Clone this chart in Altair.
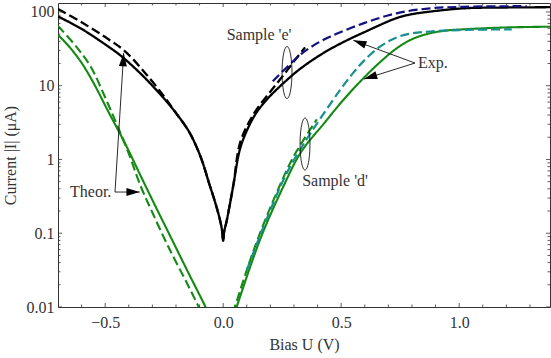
import altair as alt
import pandas as pd

# ---------------- data: bias U (V) and current |I| (uA) ----------------
# Sample 'e' – experiment (black solid)
e_exp_V = [-0.7, -0.6, -0.5, -0.431, -0.35, -0.3, -0.234, -0.17, -0.14, -0.107, -0.085, -0.06,
           -0.035, -0.015, -0.005, 0.0, 0.004, 0.0135, 0.03, 0.0446, 0.07, 0.1, 0.14, 0.19, 0.24,
           0.29, 0.3256, 0.39, 0.4527, 0.52, 0.594, 0.735, 0.8, 0.876, 1.018, 1.2, 1.386]
e_exp_I = [87.1, 58.9, 36.3, 25.1, 14.6, 10.0, 5.83, 3.16, 2.24, 1.34, 0.871, 0.479,
           0.269, 0.158, 0.110, 0.079, 0.105, 0.141, 0.263, 0.479, 1.34, 2.45, 4.27, 6.76, 9.77,
           13.6, 16.9, 23.6, 31.3, 40.6, 52.5, 82.6, 93.3, 101.0, 112.0, 115.0, 116.0]

# Sample 'e' – theory (black dashed)
e_th_V = [-0.7, -0.6, -0.5, -0.417, -0.33, -0.247, -0.2, -0.17, -0.14, -0.107, -0.085, -0.06,
          -0.035, -0.015, -0.005, 0.0, 0.004, 0.0135, 0.03, 0.0446, 0.072, 0.13, 0.2, 0.25, 0.3, 0.347]
e_th_I = [110.0, 72.4, 45.7, 29.5, 14.8, 6.92, 4.27, 3.16, 2.24, 1.34, 0.871, 0.479,
          0.269, 0.158, 0.110, 0.079, 0.105, 0.141, 0.263, 0.479, 1.70, 4.17, 8.32, 13.2, 21.4, 33.1]

# Sample 'e' – second dashed curve (navy)
e_fit_V = [0.21, 0.27, 0.33, 0.39, 0.4527, 0.594, 0.735, 0.876, 1.018, 1.286]
e_fit_I = [11.5, 17.8, 26.9, 36.3, 46.2, 70.1, 95.9, 112.0, 117.5, 120.0]

# Sample 'd' – experiment (green solid), two branches
d_exp_neg_V = [-0.7, -0.65, -0.6, -0.55, -0.487, -0.417, -0.35, -0.3, -0.218, -0.15, -0.078, -0.065]
d_exp_neg_I = [49.0, 33.1, 20.4, 11.0, 4.47, 1.68, 0.603, 0.282, 0.0832, 0.0302, 0.0105, 0.0085]
d_exp_pos_V = [0.05, 0.058, 0.157, 0.25, 0.33, 0.43, 0.509, 0.594, 0.665, 0.735, 0.8, 0.876,
               0.95, 1.018, 1.2, 1.386]
d_exp_pos_I = [0.0085, 0.0102, 0.0832, 0.398, 1.26, 3.16, 6.41, 12.6, 20.9, 32.1, 42.7, 51.4,
               56.2, 58.2, 61.7, 63.1]

# Sample 'd' – theory (green dashed), two branches
d_th_neg_V = [-0.7, -0.62, -0.56, -0.5, -0.45, -0.4, -0.35, -0.3, -0.233, -0.15, -0.1, -0.09]
d_th_neg_I = [64.6, 33.1, 17.8, 6.92, 2.95, 1.20, 0.437, 0.191, 0.0661, 0.0200, 0.00955, 0.0083]
d_th_pos_V = [0.04, 0.05, 0.1, 0.15, 0.22, 0.3, 0.397]
d_th_pos_I = [0.0083, 0.0102, 0.0316, 0.0891, 0.316, 1.12, 3.5]

# Sample 'd' – second dashed curve (teal)
d_fit_V = [0.1, 0.185, 0.27, 0.355, 0.417, 0.495, 0.55, 0.594, 0.66, 0.735, 0.8, 0.876, 1.0, 1.223]
d_fit_I = [0.0316, 0.158, 0.661, 1.91, 3.80, 8.71, 14.8, 21.4, 33.1, 45.2, 51.3, 54.3, 56.9, 58.2]

# axis ticks
x_major = [-0.5, 0.0, 0.5, 1.0]
x_minor = [-0.6, -0.4, -0.3, -0.2, -0.1, 0.1, 0.2, 0.3, 0.4, 0.6, 0.7, 0.8, 0.9, 1.1, 1.2, 1.3]
y_major = [0.01, 0.1, 1, 10, 100]
y_minor = [0.02, 0.03, 0.04, 0.05, 0.06, 0.07, 0.08, 0.09,
           0.2, 0.3, 0.4, 0.5, 0.6, 0.7, 0.8, 0.9,
           2, 3, 4, 5, 6, 7, 8, 9,
           20, 30, 40, 50, 60, 70, 80, 90]

# annotations (data coordinates)
ann_text = ["Sample 'e'", "Sample 'd'", "Exp.", "Theor."]
ann_V = [0.152, 0.474, 0.826, -0.649]
ann_I = [48.7, 0.511, 20.3, 0.362]
ann_align = ["center", "center", "left", "left"]

arrow_V = [-0.4584, -0.4584, 0.813, 0.813]
arrow_I = [0.362, 0.362, 20.3, 20.3]
arrow_V2 = [-0.4216, -0.3538, 0.5514, 0.5968]
arrow_I2 = [27.8, 0.362, 41.3, 12.3]
arrow_angle = [3.5, 90, 290.2, 252.6]

ell_V = [0.2705, 0.3468]
ell_I = [15.1, 1.62]

# ---------------- chart ----------------
W, H = 492, 304
FONT = "Liberation Serif"
TXT = "#333333"

xscale = alt.Scale(domain=[-0.7, 1.385], nice=False, zero=False)
yscale = alt.Scale(type="log", domain=[0.01, 132.3], nice=False)

x_axis = alt.Axis(values=x_major, grid=False, ticks=False, domain=False,
                  labelExpr="replace(format(datum.value, '.1f'), '-', '\u2212')",
                  labelPadding=7, titlePadding=6, title="Bias U (V)")
y_axis = alt.Axis(values=y_major, grid=False, ticks=False, domain=False, format="~g",
                  labelPadding=4, titlePadding=8, title="Current |I| (\u03bcA)")


def X(field):
    return alt.X(field, scale=xscale, axis=x_axis)


def Y(field):
    return alt.Y(field, scale=yscale, axis=y_axis)


series = [
    (e_exp_V, e_exp_I, "#000000", [1, 0], 2.3),
    (e_th_V, e_th_I, "#000000", [9, 4], 2.3),
    (e_fit_V, e_fit_I, "#10107f", [9, 4], 2.2),
    (d_exp_neg_V, d_exp_neg_I, "#138a13", [1, 0], 2.1),
    (d_exp_pos_V, d_exp_pos_I, "#138a13", [1, 0], 2.1),
    (d_th_neg_V, d_th_neg_I, "#138a13", [9, 4], 2.1),
    (d_th_pos_V, d_th_pos_I, "#138a13", [9, 4], 2.1),
    (d_fit_V, d_fit_I, "#198f8f", [9, 4], 2.2),
]

layers = []
for vv, ii, col, dash, sw in series:
    df = pd.DataFrame({"V": vv, "I": ii})
    layers.append(
        alt.Chart(df).mark_line(color=col, strokeDash=dash, strokeWidth=sw,
                                interpolate="catmull-rom", clip=True)
        .encode(x=X("V:Q"), y=Y("I:Q"))
    )

TICK = "#333333"
xmaj = pd.DataFrame({"V": x_major})
xmin = pd.DataFrame({"V": x_minor})
ymaj = pd.DataFrame({"I": y_major})
ymin = pd.DataFrame({"I": y_minor})


def xticks(df, y0, y1):
    return alt.Chart(df).mark_rule(color=TICK, strokeWidth=0.8).encode(
        x=X("V:Q"), y=alt.value(y0), y2=alt.value(y1))


def yticks(df, x0, x1):
    return alt.Chart(df).mark_rule(color=TICK, strokeWidth=0.8).encode(
        y=Y("I:Q"), x=alt.value(x0), x2=alt.value(x1))


layers += [
    xticks(xmaj, H, H - 4), xticks(xmin, H, H - 2.5),
    xticks(xmaj, 0, 4), xticks(xmin, 0, 2.5),
    yticks(ymaj, 0, 4), yticks(ymin, 0, 2.5),
    yticks(ymaj, W, W - 4), yticks(ymin, W, W - 2.5),
]

# arrows
arr = pd.DataFrame({"V": arrow_V, "I": arrow_I, "V2": arrow_V2, "I2": arrow_I2, "ang": arrow_angle})
layers.append(
    alt.Chart(arr).mark_rule(color="#111111", strokeWidth=0.9).encode(
        x=X("V:Q"), y=Y("I:Q"), x2="V2:Q", y2="I2:Q")
)
layers.append(
    alt.Chart(arr).mark_point(shape="M0,0 L0.3,1 L-0.3,1 Z", filled=True, size=700,
                              color="#000000", opacity=1).encode(
        x=X("V2:Q"), y=Y("I2:Q"), angle=alt.Angle("ang:Q", scale=None))
)

# ellipses
ell = pd.DataFrame({"V": ell_V, "I": ell_I})
layers.append(
    alt.Chart(ell).mark_point(shape="M-0.19,0 A0.19,1 0 1,0 0.19,0 A0.19,1 0 1,0 -0.19,0 Z",
                              filled=False, size=2704, color="#111111", strokeWidth=0.9,
                              opacity=1).encode(x=X("V:Q"), y=Y("I:Q"))
)

# text annotations
for t, v, c, a in zip(ann_text, ann_V, ann_I, ann_align):
    layers.append(
        alt.Chart(pd.DataFrame({"V": [v], "I": [c], "t": [t]}))
        .mark_text(font=FONT, fontSize=16, color=TXT, align=a, baseline="middle")
        .encode(x=X("V:Q"), y=Y("I:Q"), text="t:N")
    )

chart = (
    alt.layer(*layers)
    .properties(width=W, height=H, autosize=alt.AutoSizeParams(type="none"),
                padding={"left": 58, "top": 3, "right": 1, "bottom": 51})
    .configure_view(stroke="#333333", strokeWidth=1)
    .configure_axis(labelFont=FONT, labelFontSize=16, labelColor=TXT,
                    titleFont=FONT, titleFontSize=16, titleFontWeight="normal",
                    titleColor=TXT)
)

chart.save("out.html", embed_options={"renderer": "svg", "actions": False})
